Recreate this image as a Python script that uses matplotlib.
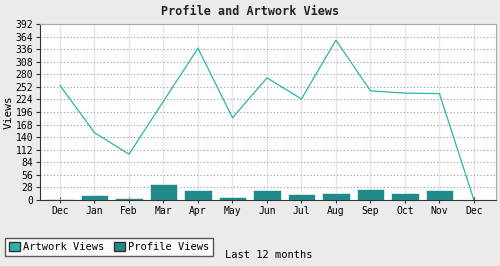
import matplotlib

matplotlib.use("Agg")
import matplotlib.pyplot as plt
from matplotlib.patches import Patch
import numpy as np

months = ["Dec", "Jan", "Feb", "Mar", "Apr", "May", "Jun",
          "Jul", "Aug", "Sep", "Oct", "Nov", "Dec"]
artwork_views = [255, 150, 102, 220, 338, 183, 272, 225, 356, 243, 238, 237, 0]
profile_views = [3, 12, 5, 35, 23, 7, 22, 14, 16, 24, 16, 22, 0]
y_ticks = list(range(0, 393, 28))

plt.rcParams["font.family"] = ["DejaVu Sans Mono"]

bg = "#ebebeb"
line_color = "#2bb3ad"
bar_color = "#1e8a8a"

fig = plt.figure(figsize=(5, 2.66), dpi=100, facecolor=bg)
ax = fig.add_axes([0.08, 0.248, 0.912, 0.662])
ax.set_facecolor("white")

x = np.arange(len(months))
ax.bar(x, profile_views, width=0.8, color=bar_color, edgecolor="#f4f4f4",
       linewidth=0.5, zorder=3)
ax.plot(x, artwork_views, color=line_color, linewidth=0.9, zorder=4)

ax.set_xlim(-0.58, 12.64)
ax.set_ylim(0, 392)
ax.set_yticks(y_ticks)
ax.set_xticks(x)
ax.set_xticklabels(months)
ax.tick_params(axis="both", labelsize=7, length=3, width=0.8, color="#333333",
               pad=2)
ax.tick_params(axis="x", direction="inout", length=5)

ax.grid(axis="y", linestyle=(0, (1, 2)), color="#999999", linewidth=0.8, zorder=0)
ax.grid(axis="x", linestyle="-", color="#e6e6e6", linewidth=1, zorder=0)

for side in ("top", "right"):
    ax.spines[side].set_color("#aaaaaa")
for side in ("left", "bottom"):
    ax.spines[side].set_color("#333333")

ax.set_ylabel("Views", fontsize=8, labelpad=1)
fig.text(0.5, 0.955, "Profile and Artwork Views", ha="center", va="center",
         fontsize=8.5, fontweight="bold", color="#222222")

legend_handles = [Patch(facecolor=line_color, edgecolor="#333333"),
                  Patch(facecolor=bar_color, edgecolor="#333333")]
fig.legend(legend_handles, ["Artwork Views", "Profile Views"],
           loc="lower left", bbox_to_anchor=(0.01, 0.036), ncol=2,
           fontsize=7.5, frameon=True, fancybox=False, edgecolor="#333333",
           handlelength=1.0, handleheight=1.0, handletextpad=0.3,
           columnspacing=1.0, borderpad=0.4, borderaxespad=0)

fig.text(0.45, 0.04, "Last 12 months", ha="left", va="center", fontsize=7.5)

fig.savefig("out.png", dpi=100, facecolor=bg)
plt.close(fig)
